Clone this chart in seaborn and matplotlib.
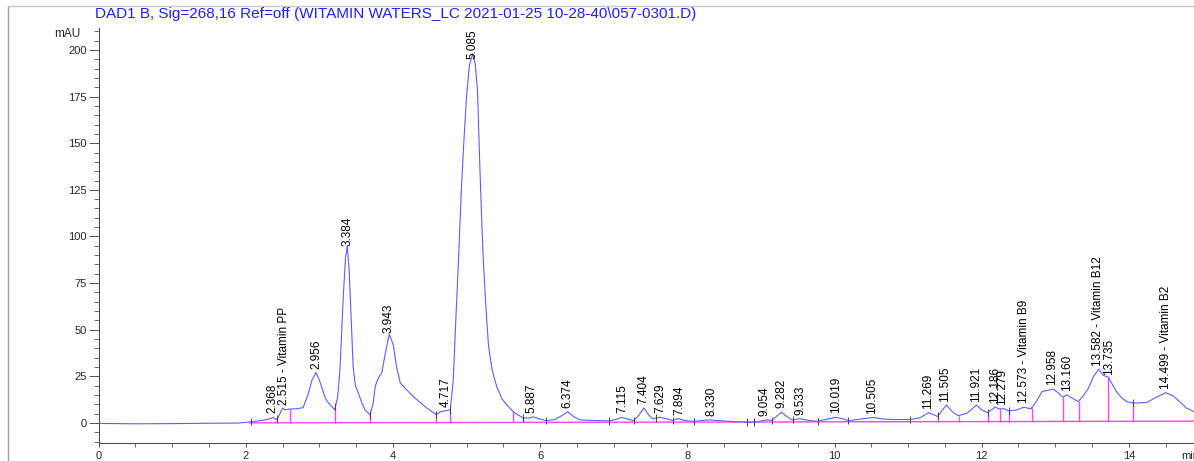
import numpy as np
import pandas as pd
import matplotlib
matplotlib.use("Agg")
import matplotlib.pyplot as plt
from matplotlib.lines import Line2D
from matplotlib.ticker import MultipleLocator
import seaborn as sns

# ---------------- data ----------------
time_min = [0.0, 0.5, 1.0, 1.5, 1.9, 2.05, 2.2, 2.3, 2.37, 2.42, 2.46, 2.50, 2.54, 2.60,
            2.70, 2.78, 2.85, 2.90, 2.955, 3.00, 3.03, 3.07, 3.10, 3.15, 3.21, 3.25, 3.28,
            3.30, 3.326, 3.355, 3.38, 3.405, 3.43, 3.46, 3.49, 3.53, 3.58, 3.62, 3.69, 3.73,
            3.76, 3.80, 3.85, 3.90, 3.95, 4.005, 4.05, 4.10, 4.18, 4.28, 4.37, 4.46, 4.585,
            4.65, 4.72, 4.78, 4.82, 4.86, 4.89, 4.93, 4.96, 5.00, 5.04, 5.085, 5.12, 5.15,
            5.18, 5.21, 5.23, 5.27, 5.30, 5.35, 5.41, 5.48, 5.55, 5.65, 5.77, 5.85, 5.91,
            5.98, 6.08, 6.20, 6.30, 6.375, 6.45, 6.54, 6.70, 6.94, 7.03, 7.11, 7.19, 7.27,
            7.34, 7.41, 7.47, 7.53, 7.63, 7.72, 7.80, 7.88, 7.97, 8.09, 8.20, 8.31, 8.45,
            8.62, 8.85, 8.95, 9.08, 9.15, 9.22, 9.28, 9.35, 9.42, 9.53, 9.65, 9.77, 9.90,
            10.01, 10.10, 10.19, 10.35, 10.53, 10.65, 10.80, 11.03, 11.16, 11.28, 11.40,
            11.46, 11.52, 11.60, 11.68, 11.80, 11.93, 12.00, 12.08, 12.18, 12.24, 12.31,
            12.37, 12.48, 12.57, 12.67, 12.75, 12.82, 12.90, 12.97, 13.03, 13.10, 13.155,
            13.22, 13.31, 13.38, 13.45, 13.52, 13.59, 13.65, 13.72, 13.77, 13.83, 13.90,
            13.97, 14.06, 14.24, 14.36, 14.50, 14.60, 14.69, 14.78, 14.88]
signal_mau = [-0.3, -0.5, -0.4, -0.2, -0.1, 0.5, 1.2, 1.8, 2.9, 1.8, 4.5, 7.8, 7.0, 7.4,
              7.6, 8.2, 15.5, 23.0, 27.0, 23.0, 19.5, 14.5, 12.0, 9.5, 7.0, 14.0, 28.0,
              45.0, 68.0, 88.0, 95.0, 82.0, 59.0, 30.0, 20.0, 16.0, 10.5, 7.0, 4.3, 10.0,
              19.5, 24.0, 27.0, 38.0, 47.5, 42.0, 30.0, 21.5, 18.0, 14.0, 11.0, 8.0, 4.5,
              6.0, 6.5, 7.0, 23.0, 60.0, 86.0, 125.0, 148.0, 175.0, 192.0, 198.0, 192.0, 178.0,
              139.0, 105.0, 86.0, 58.0, 41.0, 28.0, 19.5, 13.0, 9.5, 5.5, 2.6, 2.6, 3.2,
              2.2, 1.2, 1.8, 4.0, 6.0, 3.5, 1.6, 1.3, 1.1, 1.8, 3.0, 2.0, 1.2,
              4.0, 8.0, 4.5, 2.2, 3.0, 2.2, 1.3, 2.3, 1.2, 0.8, 1.3, 1.6, 1.1,
              0.7, 0.3, 0.6, 1.6, 1.3, 3.8, 5.7, 3.5, 1.6, 2.2, 1.3, 0.8, 2.0,
              3.0, 2.3, 1.2, 2.0, 2.9, 2.1, 1.8, 1.8, 2.7, 5.5, 3.4,
              6.5, 9.6, 6.0, 3.8, 5.2, 9.5, 7.0, 5.5, 8.4, 7.5, 7.5,
              6.4, 7.0, 8.4, 7.5, 12.0, 16.8, 17.5, 18.1, 16.5, 13.8, 15.0,
              13.5, 11.4, 14.5, 18.6, 25.0, 28.8, 25.5, 24.5, 21.0, 16.8, 13.5,
              11.4, 10.6, 10.9, 13.5, 16.2, 14.5, 11.4, 8.0, 6.1]

peak_times = [2.368, 2.515, 2.956, 3.384, 3.943, 4.717, 5.085, 5.887, 6.374, 7.115, 7.404,
              7.629, 7.894, 8.330, 9.054, 9.282, 9.533, 10.019, 10.505, 11.269, 11.505,
              11.921, 12.186, 12.279, 12.573, 12.958, 13.160, 13.582, 13.735, 14.499]
peak_names = ["2.368", "2.515 - Vitamin PP", "2.956", "3.384", "3.943", "4.717", "5.085",
              "5.887", "6.374", "7.115", "7.404", "7.629", "7.894", "8.330", "9.054",
              "9.282", "9.533", "10.019", "10.505", "11.269", "11.505", "11.921", "12.186",
              "12.279", "12.573 - Vitamin B9", "12.958", "13.160", "13.582 - Vitamin B12",
              "13.735", "14.499 - Vitamin B2"]

pink_drop_times = [2.43, 2.60, 3.22, 3.69, 4.585, 4.78, 5.63, 5.77, 11.41, 11.69, 12.08,
                   12.25, 12.37, 12.68, 13.10, 13.32, 13.72, 14.06]
black_tick_times = [2.07, 2.43, 3.22, 3.69, 4.585, 4.78, 5.77, 6.08, 6.94, 7.27, 7.57,
                    7.80, 8.09, 8.81, 8.91, 9.15, 9.44, 9.77, 10.19, 11.03, 11.41, 12.08,
                    12.37, 14.06]
baseline_t = [2.05, 14.88]
baseline_v = [0.0, 0.9]

title = "DAD1 B, Sig=268,16 Ref=off (WITAMIN WATERS_LC 2021-01-25 10-28-40\\057-0301.D)"

# ---------------- styling ----------------
sns.set_style("ticks")
plt.rcParams["font.family"] = ["Liberation Sans", "DejaVu Sans"]

W, H = 1194, 461
fig = plt.figure(figsize=(W / 100, H / 100), dpi=100)
fig.patch.set_facecolor("white")
x0px, ytop, ybot = 98.5, 28, 443
ax = fig.add_axes([x0px / W, 1 - ybot / H, 1 - x0px / W, (ybot - ytop) / H])

XMAX = (W - x0px) / 73.6
YMIN, YMAX = -10.8, 211.8
ax.set_xlim(0, XMAX)
ax.set_ylim(YMIN, YMAX)

df = pd.DataFrame({"time": time_min, "mAU": signal_mau})
sns.lineplot(data=df, x="time", y="mAU", ax=ax, color="#5e5eff", linewidth=0.8,
             sort=False, estimator=None, zorder=3)

tt = np.array(time_min)
vv = np.array(signal_mau)


def trace_at(t):
    return float(np.interp(t, tt, vv))


def base_at(t):
    return float(np.interp(t, baseline_t, baseline_v))


# integration baseline and drop lines
ax.plot(baseline_t, baseline_v, color="#ff44ff", linewidth=1.0, zorder=2)
ax.vlines(pink_drop_times, [base_at(t) for t in pink_drop_times],
          [trace_at(t) for t in pink_drop_times], color="#ff44ff", linewidth=1.0, zorder=2)
ax.vlines(black_tick_times, [trace_at(t) - 2.0 for t in black_tick_times],
          [trace_at(t) + 2.0 for t in black_tick_times], color="#444444",
          linewidth=0.7, zorder=4)

# peak labels
LFS = 8.5
for rt, name in zip(peak_times, peak_names):
    y = trace_at(rt) + 2.2
    if y + 17 > YMAX:
        ax.text(rt, YMAX - 1, name, rotation=90, ha="center", va="top", fontsize=LFS,
                color="black", zorder=5, clip_on=False)
    else:
        ax.text(rt, y, name, rotation=90, ha="center", va="bottom", fontsize=LFS,
                color="black", zorder=5, clip_on=False)

# axes
for s in ["top", "right"]:
    ax.spines[s].set_visible(False)
for s in ["left", "bottom"]:
    ax.spines[s].set_color("#505050")
    ax.spines[s].set_linewidth(0.8)
ax.set_xlabel("")
ax.set_ylabel("")
ax.xaxis.set_major_locator(MultipleLocator(2))
ax.xaxis.set_minor_locator(MultipleLocator(0.5))
ax.yaxis.set_major_locator(MultipleLocator(25))
ax.yaxis.set_minor_locator(MultipleLocator(5))
ax.tick_params(axis="y", which="major", length=7, width=0.7, color="#505050",
               labelsize=8, pad=1.5)
ax.tick_params(axis="y", which="minor", length=3.5, width=0.6, color="#505050")
ax.tick_params(axis="x", which="major", length=3, width=0.7, color="#505050",
               labelsize=8, pad=3)
ax.tick_params(axis="x", which="minor", length=3, width=0.6, color="#505050")
ax.set_yticks([0, 25, 50, 75, 100, 125, 150, 175, 200])
ax.set_xticks([0, 2, 4, 6, 8, 10, 12, 14])

fig.text(80 / W, 1 - 34 / H, "mAU", ha="right", va="center", fontsize=8.5)
fig.text(1181 / W, 1 - 456 / H, "min", ha="left", va="center", fontsize=8)
fig.text(95 / W, 1 - 14 / H, title, ha="left", va="center", fontsize=11, color="#1f1fff")

# window frame lines
fig.add_artist(Line2D([8 / W, 8 / W], [0, 1 - 6 / H], transform=fig.transFigure,
                      color="#a0a0a0", linewidth=1.0))
fig.add_artist(Line2D([8 / W, 1], [1 - 6 / H, 1 - 6 / H], transform=fig.transFigure,
                      color="#c8c8c8", linewidth=1.0))

fig.savefig("out.png", dpi=100)
